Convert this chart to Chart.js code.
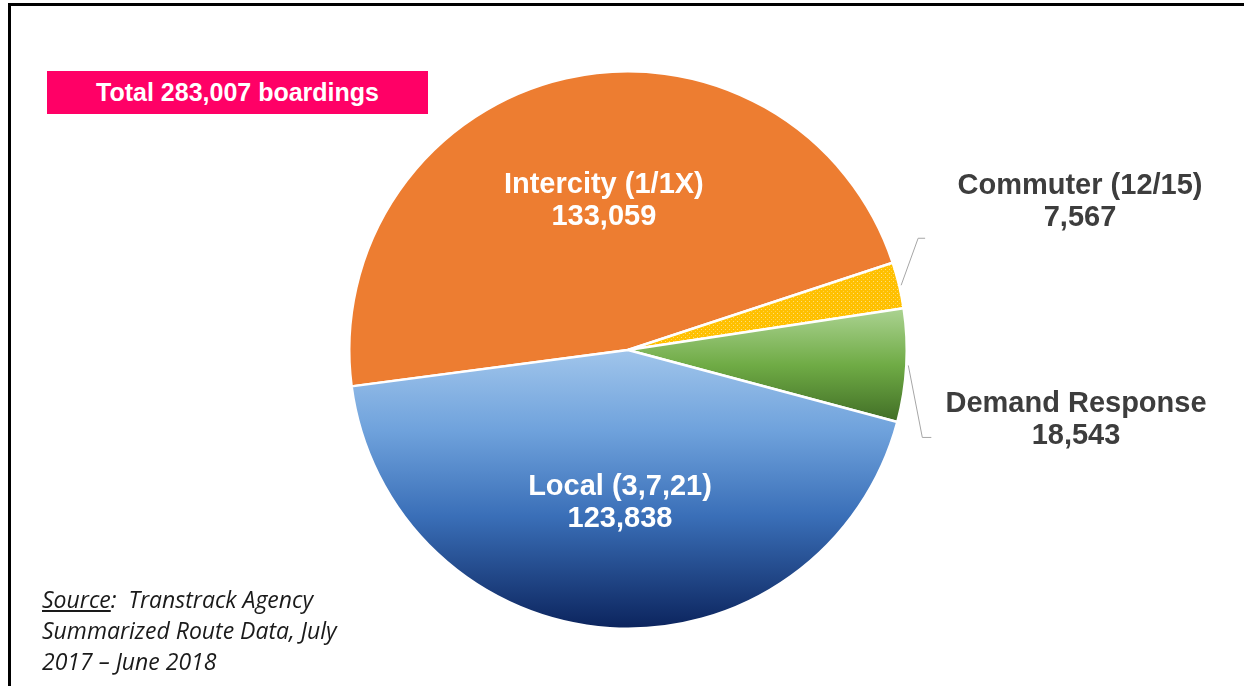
<!DOCTYPE html>
<html><head><meta charset="utf-8">
<script src="https://cdn.jsdelivr.net/npm/chart.js@4.4.1/dist/chart.umd.min.js"></script>
<style>
html,body{margin:0;padding:0;background:#fff;}
#wrap{position:relative;width:1244px;height:686px;overflow:hidden;background:#fff;}
#frame{position:absolute;left:8px;top:3px;right:-10px;bottom:-10px;border-left:3px solid #000;border-top:3px solid #000;pointer-events:none;}
#c{position:absolute;left:0;top:0;}
#total{position:absolute;left:47px;top:71px;width:381px;height:43px;background:#ff0066;color:#fff;font:bold 25px "Liberation Sans",Arial,sans-serif;line-height:43px;text-align:center;}
#source{position:absolute;left:42px;top:584px;font:italic 23px "Open Sans",Lato,sans-serif;line-height:31px;color:#1a1a1a;}
#source u{text-decoration:underline;}
</style></head>
<body>
<div id="wrap">
  <canvas id="c" width="1244" height="686"></canvas>
  <div id="frame"></div>
  <div id="total">Total 283,007 boardings</div>
  <div id="source"><u>Source</u>:&nbsp; Transtrack Agency<br>Summarized Route Data, July<br>2017 – June 2018</div>
</div>
<script>
// ---- data ----
const categories = ['Intercity (1/1X)', 'Commuter (12/15)', 'Demand Response', 'Local (3,7,21)'];
const boardings = [133059, 7567, 18543, 123838];
const valueLabels = ['133,059', '7,567', '18,543', '123,838'];

// ---- styling ----
const FONT = '"Liberation Sans", Arial, sans-serif';
function dotPattern() {
  const p = document.createElement('canvas');
  p.width = 4; p.height = 4;
  const g = p.getContext('2d');
  g.fillStyle = '#ffc000'; g.fillRect(0, 0, 4, 4);
  g.fillStyle = '#ffe07a'; g.fillRect(1, 1, 1, 1);
  g.fillStyle = '#ffd24a'; g.fillRect(3, 3, 1, 1);
  return g.createPattern(p, 'repeat');
}
function sliceColor(context) {
  const chart = context.chart;
  const area = chart.chartArea;
  const i = context.dataIndex;
  if (i === 0) return '#ed7d31';
  if (i === 1) return dotPattern();
  if (!area) return i === 2 ? '#70ad47' : '#5b9bd5';
  const cy = (area.top + area.bottom) / 2;
  const R = (area.bottom - area.top) / 2;
  const ctx = chart.ctx;
  if (i === 2) {
    const g = ctx.createLinearGradient(0, cy - R * 0.16, 0, cy + R * 0.27);
    g.addColorStop(0, '#afd596');
    g.addColorStop(0.5, '#6fab45');
    g.addColorStop(1, '#3e6a24');
    return g;
  }
  const g = ctx.createLinearGradient(0, cy - 5, 0, area.bottom);
  g.addColorStop(0, '#a3c7ec');
  g.addColorStop(0.3, '#6fa2dc');
  g.addColorStop(0.6, '#3a6fb8');
  g.addColorStop(1, '#0b235c');
  return g;
}

// label placement (relative to pie centre / slice geometry)
const insideLabel = {0: {r: 0.55, dx: 10}, 3: {r: 0.55, dx: 2}};
const outsideLabel = {
  1: {elbow: [19, -47], tick: 7, text: [452, -148]},
  2: {elbow: [16, 72], tick: 9, text: [448, 70]}
};

const labelPlugin = {
  id: 'labels',
  afterDatasetsDraw(chart) {
    const ctx = chart.ctx;
    const arcs = chart.getDatasetMeta(0).data;
    ctx.save();
    ctx.font = 'bold 29px ' + FONT;
    ctx.textAlign = 'center';
    ctx.textBaseline = 'middle';
    arcs.forEach((arc, i) => {
      const {x, y, startAngle, endAngle, outerRadius} = arc.getProps(['x','y','startAngle','endAngle','outerRadius'], true);
      const mid = (startAngle + endAngle) / 2;
      if (insideLabel[i]) {
        const L = insideLabel[i];
        const tx = x + Math.cos(mid) * outerRadius * L.r + L.dx;
        const ty = y + Math.sin(mid) * outerRadius * L.r;
        ctx.fillStyle = '#ffffff';
        ctx.fillText(categories[i], tx, ty - 16);
        ctx.fillText(valueLabels[i], tx, ty + 16);
      } else if (outsideLabel[i]) {
        const L = outsideLabel[i];
        const ex = x + Math.cos(mid) * outerRadius;
        const ey = y + Math.sin(mid) * outerRadius;
        const bx = ex + L.elbow[0], by = ey + L.elbow[1];
        ctx.strokeStyle = '#a6a6a6';
        ctx.lineWidth = 1;
        ctx.beginPath();
        ctx.moveTo(ex + 2, ey);
        ctx.lineTo(bx, by);
        ctx.lineTo(bx + L.tick, by);
        ctx.stroke();
        ctx.fillStyle = '#3d3d3d';
        const tx = x + L.text[0], ty = y + L.text[1];
        ctx.fillText(categories[i], tx, ty - 16);
        ctx.fillText(valueLabels[i], tx, ty + 16);
      }
    });
    ctx.restore();
  }
};

new Chart(document.getElementById('c'), {
  type: 'pie',
  data: {
    labels: categories,
    datasets: [{
      data: boardings,
      backgroundColor: sliceColor,
      borderColor: '#ffffff',
      borderWidth: 2.5
    }]
  },
  options: {
    responsive: false,
    animation: false,
    rotation: 262.5,
    layout: {padding: {left: 348, right: 336, top: 70, bottom: 56}},
    plugins: {legend: {display: false}, tooltip: {enabled: false}}
  },
  plugins: [labelPlugin]
});
</script>
</body></html>
